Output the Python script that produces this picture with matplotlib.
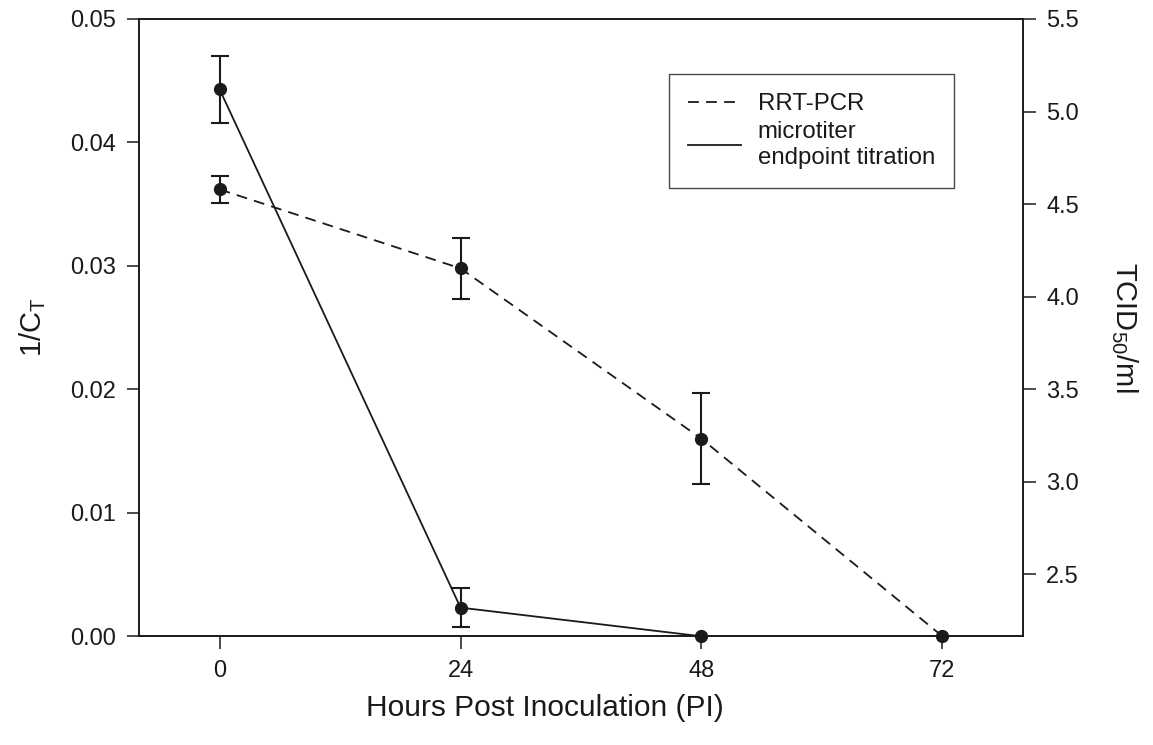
import numpy as np
import matplotlib
matplotlib.use("Agg")
import matplotlib.pyplot as plt
from matplotlib.lines import Line2D

plt.rcParams['font.family'] = ['Liberation Sans', 'DejaVu Sans']
plt.rcParams['mathtext.default'] = 'regular'

# Données
hours = [0, 24, 48, 72]
rrt_pcr = [0.0362, 0.0298, 0.0160, 0.0]
rrt_err = [0.0011, 0.0025, 0.0037, np.nan]

micro_hours = [0, 24, 48]
micro_titer = [5.12, 2.32, 2.165]
micro_err = [0.18, 0.105, np.nan]

x_ticks = [0, 24, 48, 72]
left_ticks = [0.00, 0.01, 0.02, 0.03, 0.04, 0.05]
right_ticks = [2.5, 3.0, 3.5, 4.0, 4.5, 5.0, 5.5]

fig = plt.figure(figsize=(11.53, 7.45), dpi=100)
ax = fig.add_axes([0.1208, 0.1459, 0.887 - 0.1208, 0.9745 - 0.1459])
ax2 = ax.twinx()

col = '#1a1a1a'

# RRT-PCR (axe gauche)
ax.errorbar(hours, rrt_pcr, yerr=rrt_err, color=col, ls=(0, (6, 4)), lw=1.3,
            marker='o', ms=8.5, capsize=6.5, elinewidth=1.5, capthick=1.5,
            clip_on=False, zorder=3)

# titrage microtiter (axe droit)
ax2.errorbar(micro_hours, micro_titer, yerr=micro_err, color=col, ls='-', lw=1.3,
             marker='o', ms=8.5, capsize=6.5, elinewidth=1.5, capthick=1.5,
             clip_on=False, zorder=3)

ax.set_xlim(-8, 80)
ax.set_ylim(0, 0.05)
ax2.set_ylim(2.165, 5.5)

ax.set_xticks(x_ticks)
ax.set_yticks(left_ticks)
ax.set_yticklabels(["%.2f" % v for v in left_ticks])
ax2.set_yticks(right_ticks)
ax2.set_yticklabels(["%.1f" % v for v in right_ticks])

for a in (ax, ax2):
    a.tick_params(direction='out', length=9, width=1.1, labelsize=17,
                  colors=col, pad=8)
    for s in a.spines.values():
        s.set_linewidth(1.2)
        s.set_color(col)

ax.set_xlabel("Hours Post Inoculation (PI)", fontsize=21.5, color=col)
ax.xaxis.set_label_coords(0.459, -0.116)
ax.xaxis.label.set_va('center')
ax.set_ylabel("1/C$_T$", fontsize=21, labelpad=16, color=col)
ax2.set_ylabel("TCID$_{50}$/ml", fontsize=21, rotation=270, labelpad=44, color=col)

handles = [Line2D([], [], color=col, ls=(0, (6, 4)), lw=1.3),
           Line2D([], [], color=col, ls='-', lw=1.3)]
leg = ax2.legend(handles, ["RRT-PCR", "microtiter\nendpoint titration"],
                 loc='upper left', bbox_to_anchor=(0.5996, 0.911), fontsize=17.3,
                 frameon=True, fancybox=False, handlelength=2.2,
                 borderpad=0.8, borderaxespad=0, labelspacing=0.25,
                 handletextpad=0.7)
leg.get_frame().set_edgecolor(col)
leg.get_frame().set_linewidth(1.0)
for t in leg.get_texts():
    t.set_color(col)

fig.savefig("out.png", dpi=100)
